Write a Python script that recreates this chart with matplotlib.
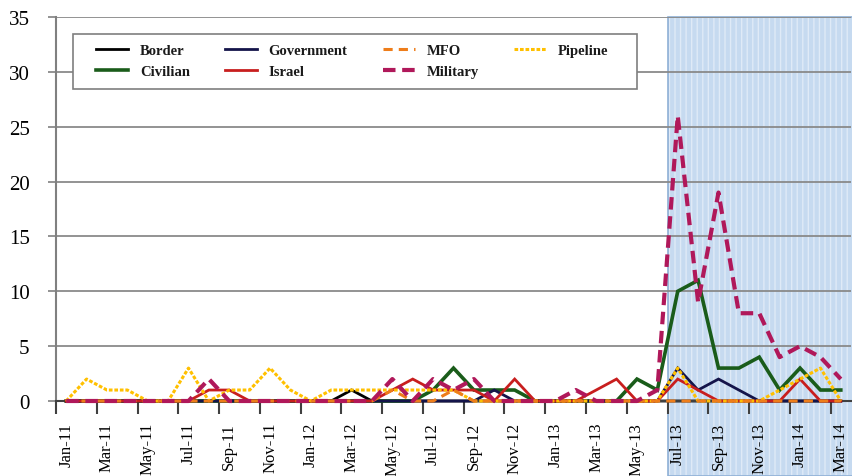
import matplotlib
matplotlib.use("Agg")
import matplotlib.pyplot as plt
from matplotlib.patches import Rectangle
import matplotlib.transforms as mtransforms

months = ["Jan-11","Feb-11","Mar-11","Apr-11","May-11","Jun-11","Jul-11","Aug-11","Sep-11","Oct-11","Nov-11","Dec-11",
          "Jan-12","Feb-12","Mar-12","Apr-12","May-12","Jun-12","Jul-12","Aug-12","Sep-12","Oct-12","Nov-12","Dec-12",
          "Jan-13","Feb-13","Mar-13","Apr-13","May-13","Jun-13","Jul-13","Aug-13","Sep-13","Oct-13","Nov-13","Dec-13",
          "Jan-14","Feb-14","Mar-14"]

border     = [0,0,0,0,0,0,0,0,0,0,0,0, 0,0,1,0,0,0,0,0,0,0,0,0, 0,0,0,0,0,0,0,0,0,0,0,0, 0,0,0]
civilian   = [0,0,0,0,0,0,0,0,0,0,0,0, 0,0,0,0,0,0,1,3,1,1,1,0, 0,0,0,0,2,1,10,11,3,3,4,1, 3,1,1]
government = [0,0,0,0,0,0,0,0,0,0,0,0, 0,0,0,0,0,0,0,0,0,1,0,0, 0,0,0,0,0,0,3,1,2,1,0,0, 0,0,0]
israel     = [0,0,0,0,0,0,0,1,1,0,0,0, 0,0,0,0,1,2,1,1,1,0,2,0, 0,0,1,2,0,0,2,1,0,0,0,0, 2,0,0]
mfo        = [0,0,0,0,0,0,0,0,0,0,0,0, 0,0,0,0,1,0,0,1,0,0,0,0, 0,0,0,0,0,0,0,0,0,0,0,0, 0,0,0]
military   = [0,0,0,0,0,0,0,2,0,0,0,0, 0,0,0,0,2,0,2,1,2,0,0,0, 0,1,0,0,0,1,26,9,19,8,8,4, 5,4,2]
pipeline   = [0,2,1,1,0,0,3,0,1,1,3,1, 0,1,1,1,1,1,1,1,0,0,0,0, 0,0,0,0,0,0,3,0,0,0,0,1, 2,3,0]

serif = ["Liberation Serif", "DejaVu Serif"]
plt.rcParams["font.family"] = serif

fig = plt.figure(figsize=(8.53, 4.77), dpi=100)
ax = fig.add_axes([56/853, 1-402/477, 795/853, 384/477])
x = list(range(len(months)))

# shaded period
trans = mtransforms.blended_transform_factory(ax.transData, ax.transAxes)
ax.add_patch(Rectangle((29.5, -0.195), 10, 1.195, transform=trans, facecolor="#c6daf0",
                       edgecolor="none", zorder=0.1, clip_on=False))
ax.add_patch(Rectangle((29.5, -0.195), 10, 1.195, transform=trans, facecolor="none",
                       edgecolor="#dfeaf7", hatch="|||", linewidth=0, zorder=0.15, clip_on=False))
ax.add_patch(Rectangle((29.5, -0.195), 10, 1.195, transform=trans, facecolor="none",
                       edgecolor="#8fb0d6", linewidth=1.2, zorder=0.2, clip_on=False))

series = [
    ("Border", border, "#000000", "-", 2.0, 2),
    ("Civilian", civilian, "#1a5c1a", "-", 2.6, 3),
    ("Government", government, "#14144a", "-", 2.0, 3),
    ("Israel", israel, "#c81e1e", "-", 2.0, 3),
    ("Pipeline", pipeline, "#ffc000", (0, (1.2, 0.6)), 2.2, 3),
    ("MFO", mfo, "#ee7d1a", (0, (3, 2)), 2.2, 3),
    ("Military", military, "#b0185a", (0, (3, 1.6)), 3.0, 4),
]
handles = {}
for name, vals, col, ls, lw, z in series:
    ln, = ax.plot(x, vals, color=col, linestyle=ls, linewidth=lw, zorder=z, clip_on=False,
                  solid_joinstyle="miter", label=name)
    handles[name] = ln

ax.set_xlim(-0.5, 38.5)
ax.set_ylim(0, 35)
ax.set_yticks(range(0, 36, 5))
ax.set_yticklabels([str(v) for v in range(0, 36, 5)], fontsize=15)
ax.set_xticks([i - 0.5 for i in range(0, 39, 2)])
ax.set_xticklabels([])
ax.set_xticks(range(0, 39, 2), minor=True)
ax.set_xticklabels(months[::2], minor=True, rotation=90, fontsize=12)
ax.tick_params(axis="x", which="major", length=9, width=1.5, color="#404040", direction="out")
ax.tick_params(axis="x", which="minor", length=0, pad=15)
ax.tick_params(axis="y", length=6, width=1.2, color="#808080", pad=13)
ax.grid(axis="y", color="#8a8a8a", linewidth=1.3)
ax.set_axisbelow(True)
for s in ["top", "right"]:
    ax.spines[s].set_visible(False)
ax.spines["left"].set_color("#808080")
ax.spines["left"].set_linewidth(1.5)
ax.spines["bottom"].set_color("#404040")
ax.spines["bottom"].set_linewidth(1.5)

# legend box
fig.add_artist(Rectangle((73/853, 1-90/477), 564/853, 55/477, transform=fig.transFigure,
                         facecolor="white", edgecolor="#7f7f7f", linewidth=1.2, zorder=1))
order = ["Border", "Civilian", "Government", "Israel", "MFO", "Military", "Pipeline"]
leg = fig.legend([handles[n] for n in order], order, ncol=4, frameon=False,
                 loc="center", bbox_to_anchor=(352/853, 1-62/477),
                 prop={"family": serif, "size": 10.5, "weight": "bold"},
                 handlelength=2.2, columnspacing=2.4, handletextpad=0.8, labelspacing=0.5)
leg.set_zorder(2)
for t in leg.get_texts():
    t.set_color("#1a1a1a")

fig.savefig("out.png", dpi=100)
